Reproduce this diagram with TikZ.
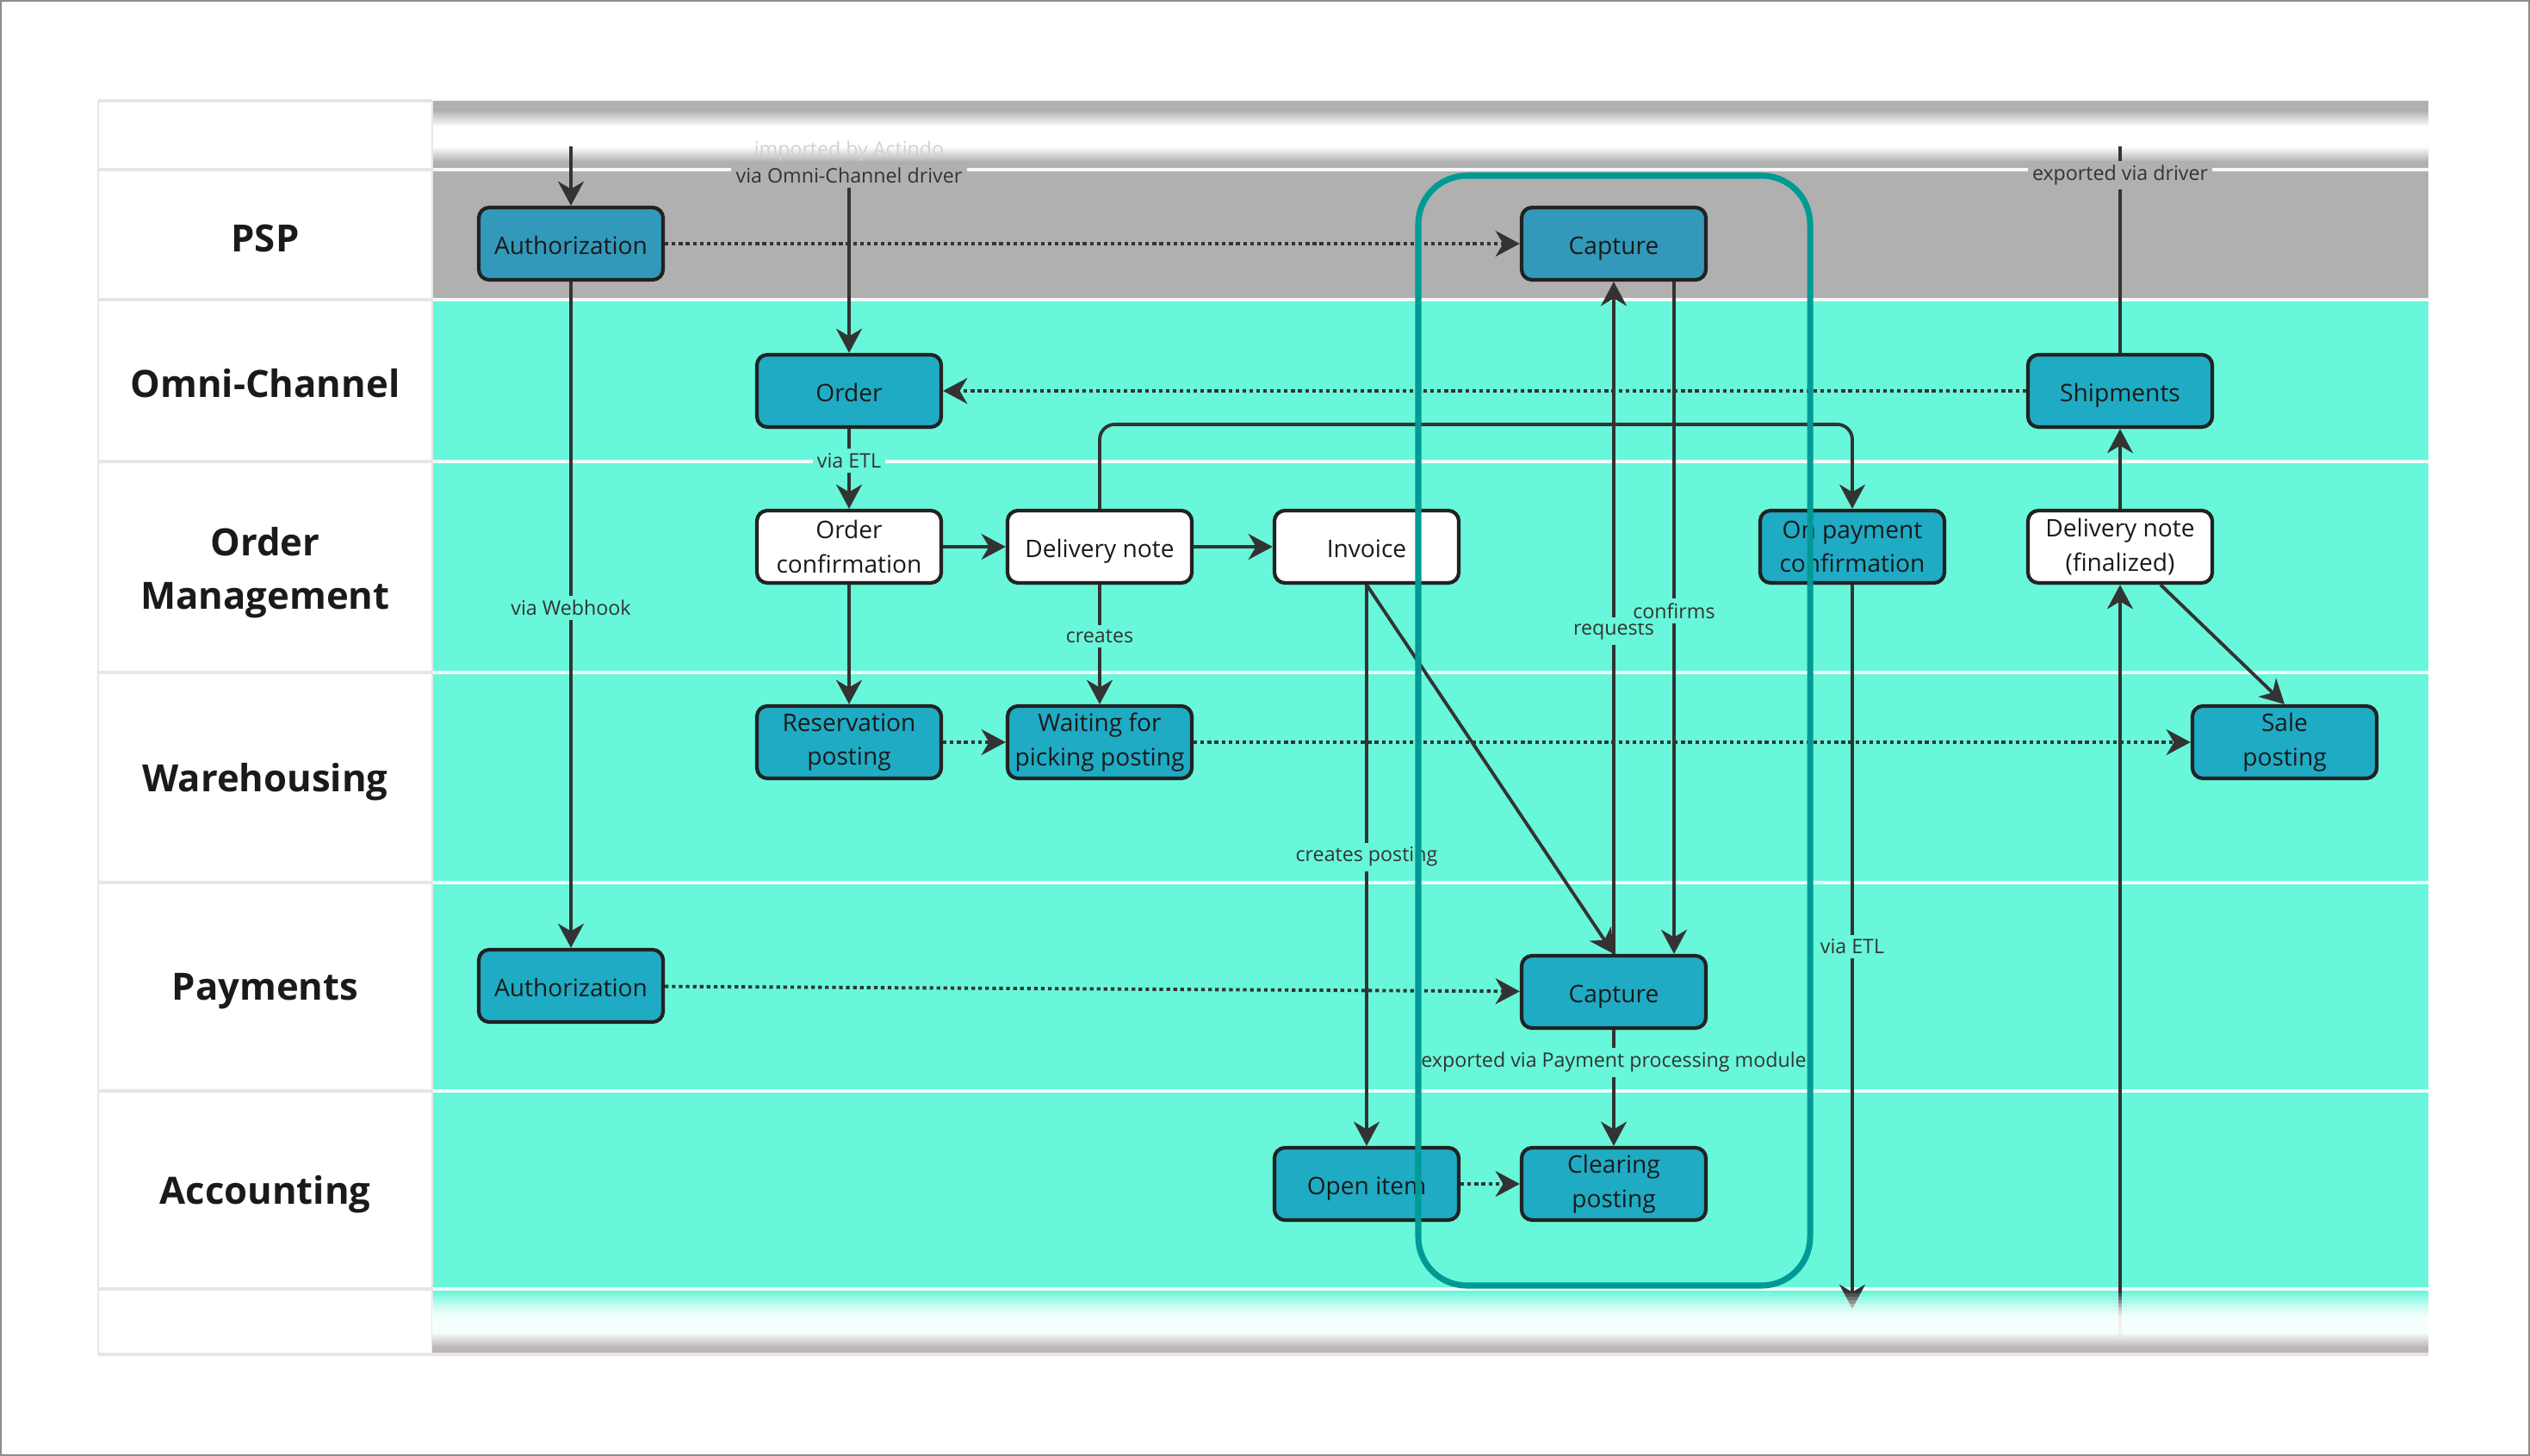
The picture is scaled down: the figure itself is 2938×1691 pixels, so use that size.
\documentclass[tikz,border=0pt]{standalone}
\usepackage{fontspec}
\setmainfont{Open Sans}
\usetikzlibrary{arrows.meta,calc}
\definecolor{lanegreen}{HTML}{68F7DA}
\definecolor{lanegray}{HTML}{B0B0B0}
\definecolor{nodeblue}{HTML}{1FABC4}
\definecolor{pspblue}{HTML}{3399BA}
\definecolor{hiteal}{HTML}{009A95}
\definecolor{ink}{HTML}{333333}
\definecolor{boxline}{HTML}{222222}
\definecolor{labink}{HTML}{1A1A1A}
\definecolor{sepgray}{HTML}{E6E6E6}
\definecolor{taupe}{HTML}{BDB4B4}
\definecolor{framegray}{HTML}{8C8C8C}
\newcommand\nodefont{\fontsize{8}{11.2}\selectfont}
\newcommand\edgefont{\fontsize{6.6}{8}\selectfont}
\newcommand\lanefont{\bfseries\fontsize{12.4}{17.6}\selectfont}
\begin{document}
\begin{tikzpicture}[x=0.01cm,y=-0.01cm,
  box/.style={draw=boxline, line width=1.2pt, rounded corners=3.5pt,
    minimum width=2.14cm, minimum height=0.84cm, align=center,
    text=labink, font=\nodefont, inner sep=1pt},
  oneline/.style={text height=0.73em, text depth=0pt},
  bbox/.style={box, fill=nodeblue},
  pbox/.style={box, fill=pspblue},
  wbox/.style={box, fill=white},
  conn/.style={draw=ink, line width=1.1pt, -{Stealth[length=8pt,width=8.5pt,inset=2.5pt]}},
  dotconn/.style={conn, dash pattern=on 1.2pt off 1.1pt},
  plainline/.style={draw=ink, line width=1.1pt},
  elabel/.style={font=\edgefont, text=ink, inner sep=1.5pt, fill=lanegreen},
  lanelabel/.style={font=\lanefont, text=labink, align=center}
]
\useasboundingbox (0,0) rectangle (2938,1691);
\fill[white] (0,0) rectangle (2938,1691);
\draw[framegray, line width=0.8pt] (1,1) rectangle (2937,1690);

% header band
\fill[lanegray] (502,117) rectangle (2820,128);
\shade[top color=lanegray, bottom color=white] (502,128) rectangle (2820,147);
\fill[white] (502,147) rectangle (2820,170);
\shade[top color=white, bottom color=lanegray] (502,170) rectangle (2820,188);
\fill[lanegray] (502,188) rectangle (2820,197);

% lanes
\fill[lanegray] (502,197) rectangle (2820,348);
\fill[lanegreen] (502,348) rectangle (2820,1573);

% separators
\foreach \yy in {197,348,536,781,1025,1267,1497}
  \draw[white, line width=0.9pt, opacity=0.9] (502,\yy) -- (2820,\yy);
\foreach \yy in {117,197,348,536,781,1025,1267,1497}
  \draw[sepgray, line width=0.9pt] (114,\yy) -- (502,\yy);
\draw[sepgray, line width=0.6pt] (114,117) -- (114,1573);
\draw[sepgray, line width=0.6pt] (502,117) -- (502,1573);

% lane labels
\node[lanelabel] (lPSP) at (308,277) {PSP};
\node[lanelabel] (lOmni) at (308,445) {Omni-Channel};
\node[lanelabel] (lOM) at (308,665) {Order\\Management};
\node[lanelabel] (lWH) at (308,908) {Warehousing};
\node[lanelabel] (lPay) at (308,1151) {Payments};
\node[lanelabel] (lAcc) at (308,1387) {Accounting};

% nodes
\node[pbox, oneline] (authT) at (663,283) {Authorization};
\node[pbox, oneline] (capT) at (1874,283) {Capture};
\node[bbox, oneline] (order) at (986,454) {Order};
\node[bbox, oneline] (ship) at (2462,454) {Shipments};
\node[wbox] (oc) at (986,635) {Order\\confirmation};
\node[wbox, oneline] (dn) at (1277,635) {Delivery note};
\node[wbox, oneline] (inv) at (1587,635) {Invoice};
\node[bbox] (onpay) at (2151,635) {On payment\\confirmation};
\node[wbox] (dnf) at (2462,635) {Delivery note\\(finalized)};
\node[bbox] (res) at (986,862) {Reservation\\posting};
\node[bbox] (wait) at (1277,862) {Waiting for\\picking posting};
\node[bbox] (sale) at (2653,862) {Sale\\posting};
\node[bbox, oneline] (authP) at (663,1145) {Authorization};
\node[bbox, oneline] (capP) at (1874,1152) {Capture};
\node[bbox, oneline] (open) at (1587,1375) {Open item};
\node[bbox] (clear) at (1874,1375) {Clearing\\posting};

% free ends
\coordinate (topA) at (663,170);
\coordinate (omniTop) at (986,204);
\coordinate (shipTop) at (2462,170);
\coordinate (etlEnd) at (2151,1520);
\coordinate (dnfStart) at (2462,1552);

% connectors
\draw[conn] (topA) -- (authT.north);
\draw[dotconn] (authT) -- (capT);
\draw[conn] (authT) -- node[elabel, pos=0.49] {via Webhook} (authP);
\draw[conn] (omniTop) -- (order.north);
\node[elabel, fill=lanegray] (omniLab) at (omniTop) {via Omni-Channel driver};
\node[font=\edgefont, text=white!82!black, inner sep=1pt] (actindo) at (986,175) {imported by Actindo};
\draw[conn] (order) -- node[elabel, pos=0.4] {via ETL} (oc);
\draw[dotconn] (ship) -- (order);
\draw[conn] (oc) -- (dn);
\draw[conn] (dn) -- (inv);
\draw[conn, rounded corners=5pt] (dn.north) |- ($(onpay.north)+(0,-98)$) -- (onpay.north);
\draw[conn] (oc) -- (res);
\draw[conn] (dn) -- node[elabel, pos=0.43] {creates} (wait);
\draw[dotconn] (res) -- (wait);
\draw[dotconn] (wait) -- (sale);
\draw[conn] (inv) -- node[elabel, pos=0.485] {creates posting} (open);
\draw[conn] (inv.south) -- (capP.north);
\draw[conn] (capP.north) -- node[elabel, pos=0.48] {requests} (capT.south);
\draw[conn] ($(capT.south)+(70,0)$) -- node[elabel, pos=0.49] {confirms} ($(capP.north)+(70,0)$);
\draw[dotconn] (authP) -- (capP);
\draw[conn] (capP) -- node[elabel, pos=0.28] {exported via Payment processing module} (clear);
\draw[dotconn] (open) -- (clear);
\draw[conn] (onpay) -- node[elabel, pos=0.5] {via ETL} (etlEnd);
\draw[conn] (dnfStart) -- (dnf);
\draw[conn] (dnf) -- (ship);
\draw[conn] ($(dnf.south)+(47,0)$) -- (sale.north);
\draw[plainline] (ship) -- node[elabel, fill=lanegray, pos=0.86] {exported via driver} (shipTop);

% footer fade (stacked strips)
\foreach \i/\op in {0/0.15,1/0.3,2/0.45,3/0.6,4/0.72,5/0.82,6/0.9}
  \fill[white, opacity=\op] (502,1502+4*\i) rectangle (2820,1506+4*\i);
\fill[white, opacity=0.93] (502,1530) rectangle (2820,1547);
\shade[top color=white, bottom color=taupe, opacity=0.97] (502,1547) rectangle (2820,1565);
\fill[taupe] (502,1565) rectangle (2820,1573);
\draw[sepgray, line width=0.9pt] (114,1573) -- (2820,1573);

% highlight frame
\draw[hiteal, line width=2pt, rounded corners=16pt] (1647,204) rectangle (2102,1493);
\end{tikzpicture}
\end{document}
